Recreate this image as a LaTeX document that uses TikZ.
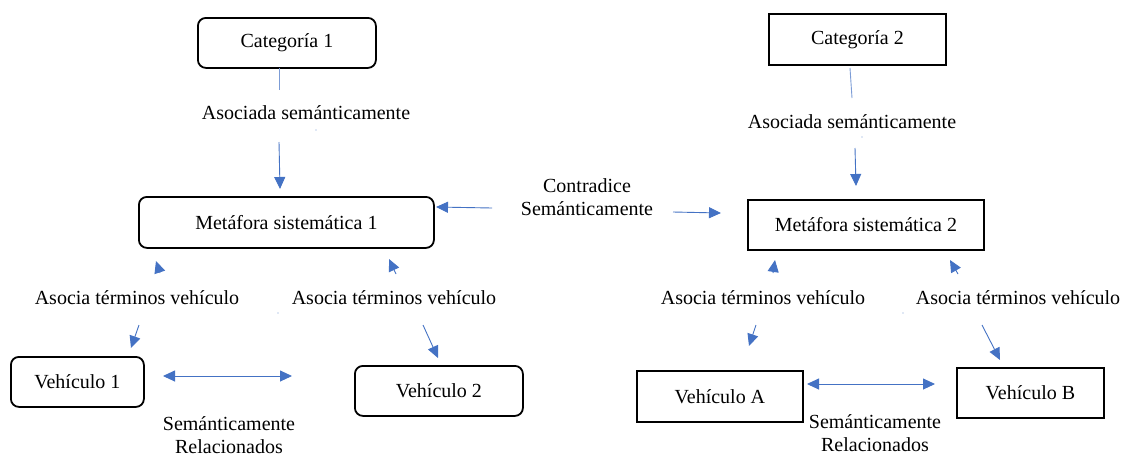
\documentclass[tikz,border=0pt]{standalone}
\usepackage{fontspec}
\setmainfont{Liberation Serif}
\usetikzlibrary{arrows.meta}
\definecolor{arrowblue}{RGB}{68,114,196}
\begin{document}
\begin{tikzpicture}[x=1pt,y=-1pt,
  txt/.style={font=\fontsize{20}{23}\selectfont},
  rbox/.style={txt, draw=black, line width=1.8pt, rounded corners=8pt, anchor=north west, inner sep=0pt},
  sbox/.style={txt, draw=black, line width=1.8pt, anchor=north west, inner sep=0pt},
  lbl/.style={txt, inner sep=0pt, align=center},
  conn/.style={draw=arrowblue, line width=0.9pt, -{Triangle[length=12pt,width=11pt]}},
  both/.style={draw=arrowblue, line width=0.9pt, {Triangle[length=12pt,width=11pt]}-{Triangle[length=12pt,width=11pt]}},
  plain/.style={draw=arrowblue!70, line width=0.9pt},
  speck/.style={fill=arrowblue!70, draw=none}
]
\useasboundingbox[fill=white] (0,0) rectangle (1127,456);

% ---- boxes ----
\node[rbox, minimum width=178pt, minimum height=50pt] (cat1) at (197,17) {Categoría 1};
\node[rbox, minimum width=295pt, minimum height=51pt] (met1) at (138,196) {Metáfora sistemática 1};
\node[rbox, minimum width=133pt, minimum height=50pt] (veh1) at (10,356) {Vehículo 1};
\node[rbox, minimum width=168pt, minimum height=50pt] (veh2) at (354,365) {Vehículo 2};

\node[sbox, minimum width=177pt, minimum height=51pt] (cat2) at (768,13) {Categoría 2};
\node[sbox, minimum width=236pt, minimum height=50pt] (met2) at (747,199) {Metáfora sistemática 2};
\node[sbox, minimum width=166pt, minimum height=51pt] (vehA) at (636,370) {Vehículo A};
\node[sbox, minimum width=147pt, minimum height=50pt] (vehB) at (956,367) {Vehículo B};

% ---- labels ----
\node[lbl] (as1) at (306,113) {Asociada semánticamente};
\node[lbl] (as2) at (852,122) {Asociada semánticamente};
\node[lbl] (contra) at (587,197) {Contradice\\Semánticamente};
\node[lbl] (at1) at (137,298) {Asocia términos vehículo};
\node[lbl] (at2) at (394,298) {Asocia términos vehículo};
\node[lbl] (at3) at (763,298) {Asocia términos vehículo};
\node[lbl] (at4) at (1018,298) {Asocia términos vehículo};
\node[lbl] (rel1) at (229,435) {Semánticamente\\Relacionados};
\node[lbl] (rel2) at (875,433) {Semánticamente\\Relacionados};

% ---- connector end points ----
\coordinate (c1a) at (279,68);  \coordinate (c1b) at (279,90);
\coordinate (c1c) at (279,142); \coordinate (c1d) at (280,189);
\coordinate (c2a) at (850,68);  \coordinate (c2b) at (852,98);
\coordinate (c2c) at (855,148); \coordinate (c2d) at (856,186);
\coordinate (k1a) at (492,208); \coordinate (k1b) at (436,207);
\coordinate (k2a) at (673,212); \coordinate (k2b) at (721,213);
\coordinate (u1a) at (160,273); \coordinate (u1b) at (156,261);
\coordinate (d1a) at (139,325); \coordinate (d1b) at (131,348);
\coordinate (u2a) at (396,274); \coordinate (u2b) at (389,259);
\coordinate (d2a) at (423,325); \coordinate (d2b) at (438,358);
\coordinate (u3a) at (773,273); \coordinate (u3b) at (775,260);
\coordinate (d3a) at (756,325); \coordinate (d3b) at (749,346);
\coordinate (u4a) at (958,274); \coordinate (u4b) at (950,260);
\coordinate (d4a) at (982,325); \coordinate (d4b) at (1000,360);
\coordinate (h1a) at (163,376); \coordinate (h1b) at (292,376);
\coordinate (h2a) at (807,384); \coordinate (h2b) at (935,384);

% ---- connectors ----
\draw[plain] (c1a) -- (c1b);
\draw[conn] (c1c) -- (c1d);
\draw[plain] (c2a) -- (c2b);
\draw[conn] (c2c) -- (c2d);
\draw[conn] (k1a) -- (k1b);
\draw[conn] (k2a) -- (k2b);
\draw[conn] (u1a) -- (u1b);
\draw[conn] (d1a) -- (d1b);
\draw[conn] (u2a) -- (u2b);
\draw[conn] (d2a) -- (d2b);
\draw[conn] (u3a) -- (u3b);
\draw[conn] (d3a) -- (d3b);
\draw[conn] (u4a) -- (u4b);
\draw[conn] (d4a) -- (d4b);
\draw[both] (h1a) -- (h1b);
\draw[both] (h2a) -- (h2b);

% ---- stray specks ----
\fill[speck] (316,130) circle (0.7);
\fill[speck] (862,137) circle (0.7);
\fill[speck] (278,313) circle (0.7);
\fill[speck] (903,313) circle (0.7);
\end{tikzpicture}
\end{document}
